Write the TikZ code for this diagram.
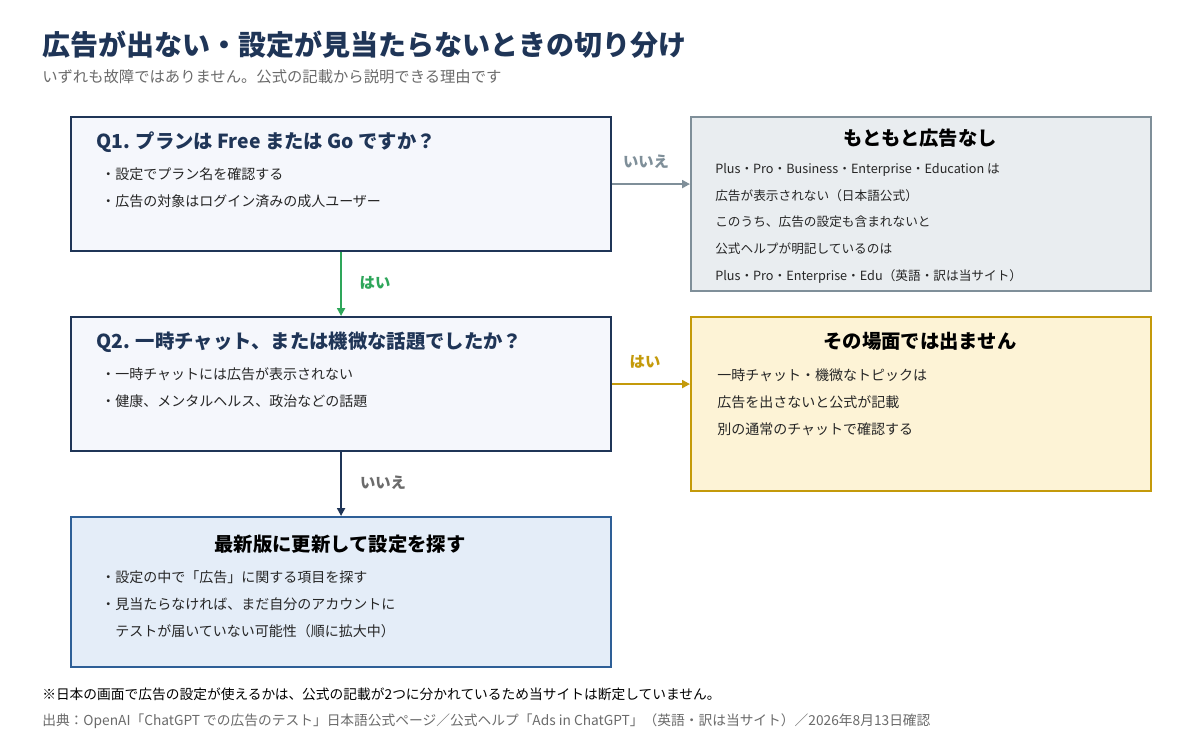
\documentclass[tikz,border=0pt]{standalone}
\usepackage{fontspec}
\setmainfont{Noto Sans CJK JP}
\usetikzlibrary{arrows.meta}
\definecolor{navy}{HTML}{1F3557}
\definecolor{subgray}{HTML}{6B6B6B}
\definecolor{greyline}{HTML}{7F8F99}
\definecolor{greyfill}{HTML}{E9EDF0}
\definecolor{gold}{HTML}{C49A0A}
\definecolor{goldfill}{HTML}{FDF3D6}
\definecolor{blueline}{HTML}{2E5F97}
\definecolor{bluefill}{HTML}{E4EDF8}
\definecolor{qfill}{HTML}{F5F7FC}
\definecolor{yesgreen}{HTML}{2EA65A}
\tikzset{
  box/.style={draw, line width=1.6pt, anchor=north west, inner sep=0pt},
  btitle/.style={anchor=west, inner sep=0.75pt, font=\fontsize{14.5}{17}\selectfont\bfseries},
  body/.style={anchor=north west, inner sep=0.75pt, align=left, font=\fontsize{10.5}{20.5}\selectfont, text=black!85},
  flow/.style={line width=2pt, -{Triangle[length=6pt,width=6pt]}},
  lab/.style={inner sep=0.75pt, font=\fontsize{11.5}{14}\selectfont\bfseries}
}
\begin{document}
\begin{tikzpicture}[x=0.75pt,y=0.75pt,yscale=-1,xscale=1]
\useasboundingbox[fill=white] (0,0) rectangle (1200,750);

% Title
\node (title) [anchor=west, inner sep=0pt, text=navy, font=\fontsize{21}{24}\selectfont\bfseries] at (42,45) {広告が出ない・設定が見当たらないときの切り分け};
\node (subtitle) [anchor=west, inner sep=0pt, text=subgray, font=\fontsize{11.5}{14}\selectfont] at (42,77) {いずれも故障ではありません。公式の記載から説明できる理由です};

% Boxes
\node (q1) [box, draw=navy, fill=qfill, minimum width=405pt, minimum height=100.5pt] at (70,116) {};
\node (noads) [box, draw=greyline, fill=greyfill, minimum width=345pt, minimum height=130.5pt] at (690,116) {};
\node (q2) [box, draw=navy, fill=qfill, minimum width=405pt, minimum height=100.5pt] at (70,316) {};
\node (scene) [box, draw=gold, fill=goldfill, minimum width=345pt, minimum height=130.5pt] at (690,316) {};
\node (update) [box, draw=blueline, fill=bluefill, minimum width=405pt, minimum height=112.5pt] at (70,516) {};

% Box texts
\node (q1t) [btitle, text=navy] at (95,142) {Q1. プランは Free または Go ですか？};
\node (q1b) [body] at (100,166) {・設定でプラン名を確認する\\・広告の対象はログイン済みの成人ユーザー};
\node (noadst) [btitle, anchor=center] at (920,138) {もともと広告なし};
\node (noadsb) [body, font=\fontsize{9.5}{20}\selectfont] at (714,162) {Plus・Pro・Business・Enterprise・Education は\\広告が表示されない（日本語公式）\\このうち、広告の設定も含まれないと\\公式ヘルプが明記しているのは\\Plus・Pro・Enterprise・Edu（英語・訳は当サイト）};
\node (q2t) [btitle, text=navy] at (95,342) {Q2. 一時チャット、または機微な話題でしたか？};
\node (q2b) [body] at (100,366) {・一時チャットには広告が表示されない\\・健康、メンタルヘルス、政治などの話題};
\node (scenet) [btitle, anchor=center] at (920,341) {その場面では出ません};
\node (sceneb) [body] at (716,367) {一時チャット・機微なトピックは\\広告を出さないと公式が記載\\別の通常のチャットで確認する};
\node (updatet) [btitle, anchor=center] at (340,544) {最新版に更新して設定を探す};
\node (updateb) [body] at (100,569) {・設定の中で「広告」に関する項目を探す\\・見当たらなければ、まだ自分のアカウントに\\\hspace*{1em}テストが届いていない可能性（順に拡大中）};

% Connectors
\draw [flow, draw=greyline] (q1.east) -- (noads.west |- q1.east);
\node (no1) [lab, text=greyline] at (646,162) {いいえ};
\draw [flow, draw=yesgreen] (q1.south) -- (q2.north);
\node (yes1) [lab, text=yesgreen] at (375,283) {はい};
\draw [flow, draw=gold] (q2.east) -- (scene.west |- q2.east);
\node (yes2) [lab, text=gold] at (645,362) {はい};
\draw [flow, draw=navy] (q2.south) -- (update.north);
\node (no2) [lab, text=subgray] at (383,483) {いいえ};

% Notes
\node (note) [anchor=west, inner sep=0pt, font=\fontsize{10.3}{12}\selectfont] at (42,694) {※日本の画面で広告の設定が使えるかは、公式の記載が2つに分かれているため当サイトは断定していません。};
\node (source) [anchor=west, inner sep=0pt, text=subgray, font=\fontsize{10.3}{12}\selectfont] at (42,721) {出典：OpenAI「ChatGPT での広告のテスト」日本語公式ページ／公式ヘルプ「Ads in ChatGPT」（英語・訳は当サイト）／2026年8月13日確認};
\end{tikzpicture}
\end{document}
